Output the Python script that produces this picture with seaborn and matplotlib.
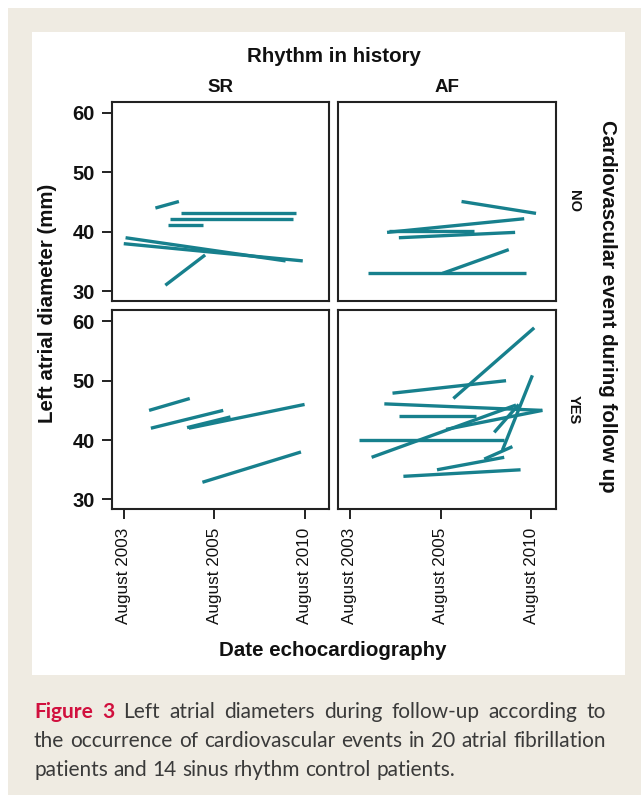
import matplotlib
matplotlib.use("Agg")
import matplotlib.pyplot as plt
import pandas as pd
import seaborn as sns
from matplotlib.patches import Rectangle

# x is the position on the date axis (0 = August 2003, 1 = August 2005, 2 = August 2010)
# each patient: first and last echocardiography (date, LA diameter in mm)

# SR, no cardiovascular event
sr_no_x0 = [0.35, 0.63, 0.51, 0.49, 0.02, 0.00, 0.46]
sr_no_y0 = [44.0, 43.1, 42.1, 41.1, 39.0, 38.0, 31.0]
sr_no_x1 = [0.61, 1.91, 1.87, 0.88, 1.79, 1.98, 0.90]
sr_no_y1 = [45.1, 43.1, 42.1, 41.1, 35.1, 35.1, 36.1]

# AF, no cardiovascular event
af_no_x0 = [1.23, 0.41, 0.43, 0.54, 0.20, 1.02]
af_no_y0 = [45.1, 39.9, 40.1, 39.0, 33.0, 33.0]
af_no_x1 = [2.05, 1.92, 1.37, 1.82, 1.94, 1.75]
af_no_y1 = [43.1, 42.2, 40.1, 39.9, 33.0, 37.0]

# SR, cardiovascular event
sr_yes_x0 = [0.28, 0.30, 0.70, 0.72, 0.87]
sr_yes_y0 = [45.0, 42.0, 42.1, 42.0, 32.9]
sr_yes_x1 = [0.73, 1.10, 1.18, 2.00, 1.96]
sr_yes_y1 = [47.0, 45.0, 43.9, 46.0, 38.0]

# AF, cardiovascular event
af_yes_x0 = [1.14, 0.47, 0.38, 0.54, 0.10, 0.24, 1.06, 1.68, 1.59, 1.48, 0.96, 0.59]
af_yes_y0 = [47.0, 47.9, 46.1, 44.0, 40.0, 37.1, 41.8, 38.3, 41.3, 36.8, 35.0, 33.9]
af_yes_x1 = [2.03, 1.72, 2.12, 1.39, 1.70, 1.83, 2.12, 2.01, 1.86, 1.79, 1.70, 1.88]
af_yes_y1 = [58.9, 50.0, 45.0, 44.0, 40.0, 45.9, 45.0, 50.9, 46.0, 38.9, 37.1, 35.0]

tick_pos = [0, 1, 2]
tick_labels = ["August 2003", "August 2005", "August 2010"]
y_ticks = [30, 40, 50, 60]

panels = [
    ("SR", "NO", sr_no_x0, sr_no_y0, sr_no_x1, sr_no_y1),
    ("AF", "NO", af_no_x0, af_no_y0, af_no_x1, af_no_y1),
    ("SR", "YES", sr_yes_x0, sr_yes_y0, sr_yes_x1, sr_yes_y1),
    ("AF", "YES", af_yes_x0, af_yes_y0, af_yes_x1, af_yes_y1),
]

rows = []
pid = 0
for rhythm, event, x0, y0, x1, y1 in panels:
    for a, b, c, d in zip(x0, y0, x1, y1):
        rows.append(dict(pid=pid, rhythm=rhythm, event=event, date=a, lad=b))
        rows.append(dict(pid=pid, rhythm=rhythm, event=event, date=c, lad=d))
        pid += 1
df = pd.DataFrame(rows)

sns.set_style("white")
plt.rcParams["font.family"] = ["Liberation Sans", "DejaVu Sans"]
plt.rcParams["lines.solid_capstyle"] = "butt"

W, H = 641, 795
fig = plt.figure(figsize=(W / 100, H / 100), dpi=100)
fig.patch.set_facecolor("white")
beige = "#efebe2"
fig.patches.append(Rectangle((8 / W, 0), 1, 1 - 8 / H, transform=fig.transFigure,
                             facecolor=beige, edgecolor="none", zorder=-3))
fig.patches.append(Rectangle((32 / W, 1 - 675 / H), (625 - 32) / W, (675 - 32) / H,
                             transform=fig.transFigure, facecolor="white",
                             edgecolor="none", zorder=-2))

teal = "#17808d"
ink = "#111111"


def px_axes(x0, y0, x1, y1):
    return [x0 / W, 1 - y1 / H, (x1 - x0) / W, (y1 - y0) / H]


cols = {"SR": (112, 329), "AF": (338, 556)}
rws = {"NO": (101.7, 300.7), "YES": (310, 509)}

for rhythm, event, *_ in panels:
    cx = cols[rhythm]
    ry = rws[event]
    ax = fig.add_axes(px_axes(cx[0], ry[0], cx[1], ry[1]))
    sub = df[(df.rhythm == rhythm) & (df.event == event)]
    sns.lineplot(data=sub, x="date", y="lad", units="pid", estimator=None,
                 color=teal, lw=2.4, ax=ax, legend=False)
    ax.set_xlim(-0.13, 2.27)
    ax.set_ylim(28.4, 61.9)
    ax.set_xlabel("")
    ax.set_ylabel("")
    for s in ax.spines.values():
        s.set_color("#222222")
        s.set_linewidth(1.5)
    ax.set_xticks(tick_pos)
    ax.set_yticks(y_ticks)
    ax.tick_params(length=7.5, width=1.4, color="#222222")
    if event == "YES":
        ax.set_xticklabels(tick_labels, rotation=90, fontsize=12.3, color=ink)
        ax.tick_params(axis="x", bottom=True, pad=6)
    else:
        ax.set_xticklabels([])
        ax.tick_params(axis="x", bottom=False)
    if rhythm == "SR":
        ax.set_yticklabels([str(v) for v in y_ticks], fontsize=14.5,
                           fontweight="bold", color=ink)
        ax.tick_params(axis="y", left=True, pad=5)
    else:
        ax.set_yticklabels([])
        ax.tick_params(axis="y", left=False)

# headers and axis titles
fig.text(334 / W, 1 - 57 / H, "Rhythm in history", ha="center", va="center",
         fontsize=14.8, fontweight="bold", color=ink)
fig.text(220 / W, 1 - 88 / H, "SR", ha="center", va="center",
         fontsize=13.5, fontweight="bold", color=ink)
fig.text(447 / W, 1 - 88 / H, "AF", ha="center", va="center",
         fontsize=13.5, fontweight="bold", color=ink)
fig.text(48 / W, 1 - 303 / H, "Left atrial diameter (mm)", rotation=90,
         ha="center", va="center", fontsize=14.8, fontweight="bold", color=ink)
fig.text(607 / W, 1 - 306 / H, "Cardiovascular event during follow up",
         rotation=-90, ha="center", va="center", fontsize=14.8,
         fontweight="bold", color=ink)
fig.text(574 / W, 1 - 201 / H, "NO", rotation=-90, ha="center", va="center",
         fontsize=10.5, fontweight="bold", color=ink)
fig.text(574 / W, 1 - 410 / H, "YES", rotation=-90, ha="center", va="center",
         fontsize=10.5, fontweight="bold", color=ink)
fig.text(333 / W, 1 - 650 / H, "Date echocardiography", ha="center",
         va="center", fontsize=14.8, fontweight="bold", color=ink)

# caption, justified like the journal layout
cap_font = ["Lato", "DejaVu Sans"]
cap_size = 15
cap_color = "#3a3a3a"
red = "#d1103e"
caption_lines = [
    ([("Figure", red, "bold"), ("3", red, "bold")] +
     [(w, cap_color, "normal") for w in
      "Left atrial diameters during follow-up according to".split()], True),
    ([(w, cap_color, "normal") for w in
      "the occurrence of cardiovascular events in 20 atrial fibrillation".split()], True),
    ([(w, cap_color, "normal") for w in
      "patients and 14 sinus rhythm control patients.".split()], False),
]
cap_y = [712, 741, 770]
left, right = 34, 606
renderer = fig.canvas.get_renderer()
probe = fig.text(0, 0, "a a", fontsize=cap_size, family=cap_font)
w_aa = probe.get_window_extent(renderer).width
probe.set_text("aa")
space_w = w_aa - probe.get_window_extent(renderer).width
probe.remove()

for (tokens, justify), yy in zip(caption_lines, cap_y):
    texts = []
    for word, col, wt in tokens:
        t = fig.text(0, 1 - yy / H, word, fontsize=cap_size, family=cap_font,
                     color=col, fontweight=wt, va="center", ha="left")
        texts.append(t)
    widths = [t.get_window_extent(renderer).width for t in texts]
    if justify:
        gap = (right - left - sum(widths)) / (len(texts) - 1)
    else:
        gap = space_w
    x = left
    for t, w in zip(texts, widths):
        t.set_x(x / W)
        x += w + gap

fig.savefig("out.png", dpi=100, facecolor=fig.get_facecolor())
